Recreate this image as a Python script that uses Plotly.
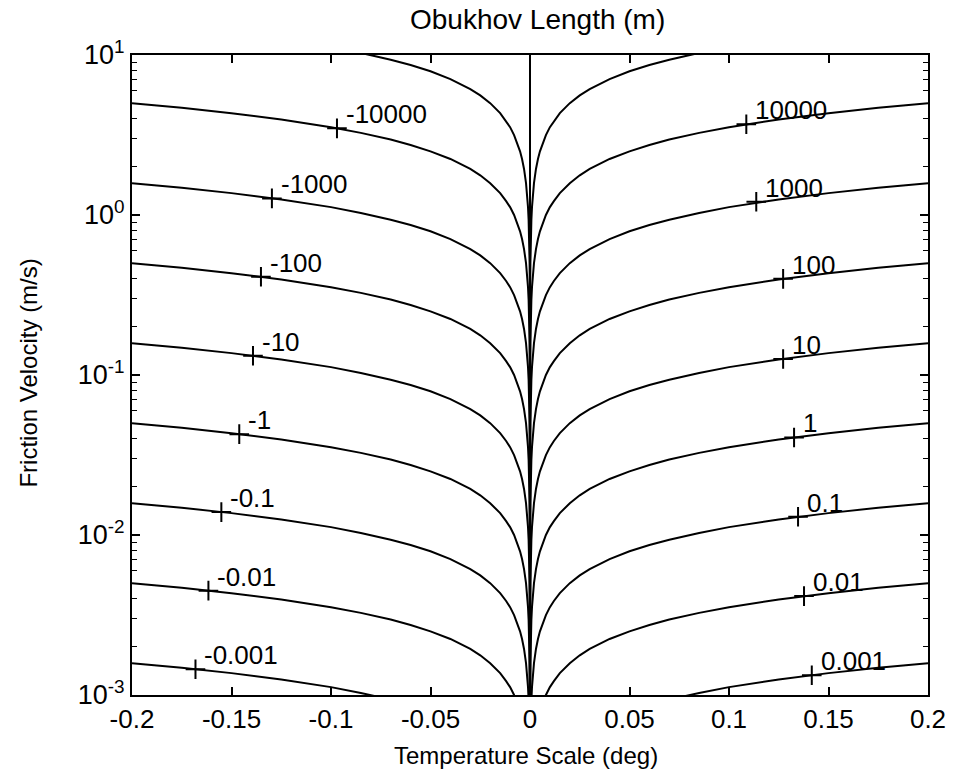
import math
import plotly.graph_objects as go

# Temperature-scale sample points (deg), positive side; negative side is the mirror
THETA = [0.2, 0.175, 0.15, 0.125, 0.1, 0.085, 0.07, 0.06, 0.05, 0.04, 0.03, 0.025,
         0.02, 0.015, 0.012, 0.01, 0.008, 0.006, 0.005, 0.004, 0.003, 0.002, 0.0015,
         0.001, 0.0007, 0.0005, 0.0003, 0.0002, 0.0001, 3e-5, 1e-5, 1e-6, 1e-7, 1e-8, 1e-9]

# Friction velocity (m/s) along each Obukhov-length contour
U_L0001 = [1.58e-3, 1.48e-3, 1.37e-3, 1.25e-3, 1.12e-3, 1.03e-3, 9.35e-4, 8.66e-4, 7.91e-4, 7.07e-4, 6.12e-4, 5.59e-4,
           5.00e-4, 4.33e-4, 3.87e-4, 3.54e-4, 3.16e-4, 2.74e-4, 2.50e-4, 2.24e-4, 1.94e-4, 1.58e-4, 1.37e-4,
           1.12e-4, 9.35e-5, 7.91e-5, 6.12e-5, 5.00e-5, 3.54e-5, 1.94e-5, 1.12e-5, 3.54e-6, 1.12e-6, 3.54e-7, 1.12e-7]
U_L001 = [5.00e-3, 4.68e-3, 4.33e-3, 3.95e-3, 3.54e-3, 3.26e-3, 2.96e-3, 2.74e-3, 2.50e-3, 2.24e-3, 1.94e-3, 1.77e-3,
          1.58e-3, 1.37e-3, 1.22e-3, 1.12e-3, 1.00e-3, 8.66e-4, 7.91e-4, 7.07e-4, 6.12e-4, 5.00e-4, 4.33e-4,
          3.54e-4, 2.96e-4, 2.50e-4, 1.94e-4, 1.58e-4, 1.12e-4, 6.12e-5, 3.54e-5, 1.12e-5, 3.54e-6, 1.12e-6, 3.54e-7]
U_L01 = [1.58e-2, 1.48e-2, 1.37e-2, 1.25e-2, 1.12e-2, 1.03e-2, 9.35e-3, 8.66e-3, 7.91e-3, 7.07e-3, 6.12e-3, 5.59e-3,
         5.00e-3, 4.33e-3, 3.87e-3, 3.54e-3, 3.16e-3, 2.74e-3, 2.50e-3, 2.24e-3, 1.94e-3, 1.58e-3, 1.37e-3,
         1.12e-3, 9.35e-4, 7.91e-4, 6.12e-4, 5.00e-4, 3.54e-4, 1.94e-4, 1.12e-4, 3.54e-5, 1.12e-5, 3.54e-6, 1.12e-6]
U_L1 = [5.00e-2, 4.68e-2, 4.33e-2, 3.95e-2, 3.54e-2, 3.26e-2, 2.96e-2, 2.74e-2, 2.50e-2, 2.24e-2, 1.94e-2, 1.77e-2,
        1.58e-2, 1.37e-2, 1.22e-2, 1.12e-2, 1.00e-2, 8.66e-3, 7.91e-3, 7.07e-3, 6.12e-3, 5.00e-3, 4.33e-3,
        3.54e-3, 2.96e-3, 2.50e-3, 1.94e-3, 1.58e-3, 1.12e-3, 6.12e-4, 3.54e-4, 1.12e-4, 3.54e-5, 1.12e-5, 3.54e-6]
U_L10 = [1.58e-1, 1.48e-1, 1.37e-1, 1.25e-1, 1.12e-1, 1.03e-1, 9.35e-2, 8.66e-2, 7.91e-2, 7.07e-2, 6.12e-2, 5.59e-2,
         5.00e-2, 4.33e-2, 3.87e-2, 3.54e-2, 3.16e-2, 2.74e-2, 2.50e-2, 2.24e-2, 1.94e-2, 1.58e-2, 1.37e-2,
         1.12e-2, 9.35e-3, 7.91e-3, 6.12e-3, 5.00e-3, 3.54e-3, 1.94e-3, 1.12e-3, 3.54e-4, 1.12e-4, 3.54e-5, 1.12e-5]
U_L100 = [5.00e-1, 4.68e-1, 4.33e-1, 3.95e-1, 3.54e-1, 3.26e-1, 2.96e-1, 2.74e-1, 2.50e-1, 2.24e-1, 1.94e-1, 1.77e-1,
          1.58e-1, 1.37e-1, 1.22e-1, 1.12e-1, 1.00e-1, 8.66e-2, 7.91e-2, 7.07e-2, 6.12e-2, 5.00e-2, 4.33e-2,
          3.54e-2, 2.96e-2, 2.50e-2, 1.94e-2, 1.58e-2, 1.12e-2, 6.12e-3, 3.54e-3, 1.12e-3, 3.54e-4, 1.12e-4, 3.54e-5]
U_L1000 = [1.58, 1.48, 1.37, 1.25, 1.12, 1.03, 9.35e-1, 8.66e-1, 7.91e-1, 7.07e-1, 6.12e-1, 5.59e-1,
           5.00e-1, 4.33e-1, 3.87e-1, 3.54e-1, 3.16e-1, 2.74e-1, 2.50e-1, 2.24e-1, 1.94e-1, 1.58e-1, 1.37e-1,
           1.12e-1, 9.35e-2, 7.91e-2, 6.12e-2, 5.00e-2, 3.54e-2, 1.94e-2, 1.12e-2, 3.54e-3, 1.12e-3, 3.54e-4, 1.12e-4]
U_L10000 = [5.00, 4.68, 4.33, 3.95, 3.54, 3.26, 2.96, 2.74, 2.50, 2.24, 1.94, 1.77,
            1.58, 1.37, 1.22, 1.12, 1.00, 8.66e-1, 7.91e-1, 7.07e-1, 6.12e-1, 5.00e-1, 4.33e-1,
            3.54e-1, 2.96e-1, 2.50e-1, 1.94e-1, 1.58e-1, 1.12e-1, 6.12e-2, 3.54e-2, 1.12e-2, 3.54e-3, 1.12e-3, 3.54e-4]
U_L100000 = [15.8, 14.8, 13.7, 12.5, 11.2, 10.3, 9.35, 8.66, 7.91, 7.07, 6.12, 5.59,
             5.00, 4.33, 3.87, 3.54, 3.16, 2.74, 2.50, 2.24, 1.94, 1.58, 1.37,
             1.12, 9.35e-1, 7.91e-1, 6.12e-1, 5.00e-1, 3.54e-1, 1.94e-1, 1.12e-1, 3.54e-2, 1.12e-2, 3.54e-3, 1.12e-3]

CURVES = [U_L0001, U_L001, U_L01, U_L1, U_L10, U_L100, U_L1000, U_L10000, U_L100000]

# Contour labels ("+" marker position on the curve)
LAB_POS_TEXT = ["10000", "1000", "100", "10", "1", "0.1", "0.01", "0.001"]
LAB_POS_X = [0.1087, 0.1137, 0.1272, 0.1272, 0.1327, 0.1347, 0.1377, 0.1416]
LAB_POS_Y = [3.69, 1.21, 0.399, 0.126, 0.0407, 0.0130, 0.00415, 0.00133]
LAB_NEG_TEXT = ["-10000", "-1000", "-100", "-10", "-1", "-0.1", "-0.01", "-0.001"]
LAB_NEG_X = [-0.097, -0.1297, -0.1352, -0.1392, -0.1461, -0.1551, -0.1616, -0.1681]
LAB_NEG_Y = [3.48, 1.27, 0.411, 0.132, 0.0427, 0.0139, 0.00449, 0.00145]

X_TICKS = [-0.2, -0.15, -0.1, -0.05, 0, 0.05, 0.1, 0.15, 0.2]
X_TICKTEXT = ["-0.2", "-0.15", "-0.1", "-0.05", "0", "0.05", "0.1", "0.15", "0.2"]
Y_TICKS = [1e-3, 1e-2, 1e-1, 1e0, 1e1]
Y_TICKTEXT = ["10<sup>-3</sup>", "10<sup>-2</sup>", "10<sup>-1</sup>", "10<sup>0</sup>", "10<sup>1</sup>"]
Y_MINOR = [m * 10.0 ** e for e in range(-3, 1) for m in range(2, 10)]

FONT = "Liberation Sans, Arial, Helvetica, sans-serif"
LINE = dict(color="black", width=2)

fig = go.Figure()
for u in CURVES:
    fig.add_trace(go.Scatter(x=THETA, y=u, mode="lines", line=LINE, hoverinfo="skip"))
    fig.add_trace(go.Scatter(x=[-t for t in THETA], y=u, mode="lines", line=LINE, hoverinfo="skip"))

# theta = 0 line
fig.add_trace(go.Scatter(x=[0, 0], y=[1e-3, 10], mode="lines", line=LINE, hoverinfo="skip"))

mk = dict(symbol="cross-thin", size=14, color="black", line=dict(color="black", width=2))
fig.add_trace(go.Scatter(x=LAB_POS_X + LAB_NEG_X, y=LAB_POS_Y + LAB_NEG_Y, mode="markers",
                         marker=mk, hoverinfo="skip", cliponaxis=False))

# annotations on a log axis take log10 of the value
for t, x, y in zip(LAB_POS_TEXT + LAB_NEG_TEXT, LAB_POS_X + LAB_NEG_X, LAB_POS_Y + LAB_NEG_Y):
    fig.add_annotation(x=x, y=math.log10(y), xref="x", yref="y", text=t, showarrow=False,
                       xanchor="left", yanchor="middle", xshift=7, yshift=14,
                       font=dict(family=FONT, size=26, color="black"))

fig.add_annotation(text="Obukhov Length (m)", xref="paper", yref="paper", x=0.51, y=1.0547,
                   xanchor="center", yanchor="middle", showarrow=False,
                   font=dict(family=FONT, size=28, color="black"))
fig.add_annotation(text="Temperature Scale (deg)", xref="paper", yref="paper", x=0.495, y=-0.095,
                   xanchor="center", yanchor="middle", showarrow=False,
                   font=dict(family=FONT, size=24, color="black"))
fig.add_annotation(text="Friction Velocity (m/s)", xref="paper", yref="paper", x=-0.13, y=0.503,
                   xanchor="center", yanchor="middle", showarrow=False, textangle=-90,
                   font=dict(family=FONT, size=24, color="black"))

fig.update_layout(
    width=958, height=775,
    margin=dict(l=132, r=24, t=55, b=80),
    paper_bgcolor="white", plot_bgcolor="white",
    showlegend=False,
    font=dict(family=FONT, color="black"),
)
fig.update_xaxes(range=[-0.2, 0.2], tickmode="array", tickvals=X_TICKS, ticktext=X_TICKTEXT,
                 ticks="inside", ticklen=8, tickwidth=1.5, tickcolor="black",
                 showline=True, linewidth=2, linecolor="black", mirror="allticks",
                 showgrid=False, zeroline=False, tickfont=dict(family=FONT, size=26, color="black"))
fig.update_yaxes(type="log", range=[-3, 1], tickmode="array", tickvals=Y_TICKS, ticktext=Y_TICKTEXT,
                 ticks="inside", ticklen=8, tickwidth=1.5, tickcolor="black",
                 showline=True, linewidth=2, linecolor="black", mirror="allticks",
                 showgrid=False, zeroline=False, tickfont=dict(family=FONT, size=27, color="black"),
                 minor=dict(ticks="inside", ticklen=5, tickwidth=1, tickcolor="black",
                            tickvals=Y_MINOR, showgrid=False))

fig.write_html("out.html")
